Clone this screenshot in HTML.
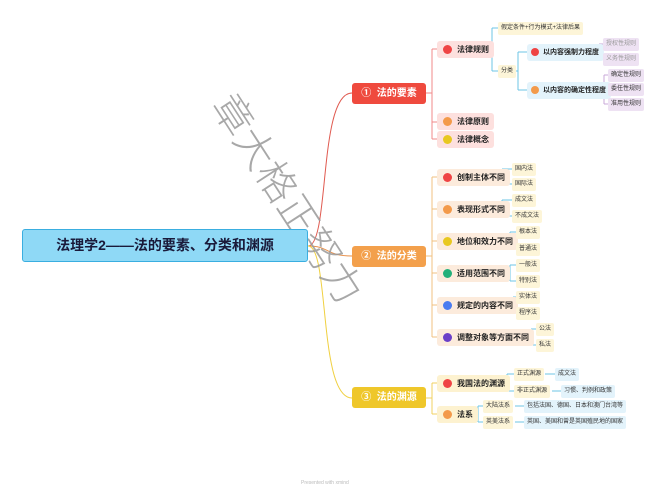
<!DOCTYPE html>
<html><head><meta charset="utf-8"><style>
body{margin:0;width:660px;height:496px;background:#fff;position:relative;overflow:hidden;font-family:"Liberation Sans","Noto Sans CJK SC",sans-serif;}
.a{position:absolute;white-space:nowrap;}
.root{left:22px;top:229px;width:286px;height:33px;background:#8fd9f6;border:1px solid #3aaee0;border-radius:3px;box-sizing:border-box;font-weight:bold;font-size:14px;color:#1a1a3a;line-height:31px;text-align:center;}
.m{width:74px;height:21px;border-radius:3px;color:#fff;font-weight:bold;font-size:10px;line-height:21px;text-align:center;}
.p{height:17px;border-radius:3px;font-size:8px;line-height:17px;padding:0 5px 0 20px;color:#222;font-weight:bold;}
.p i{position:absolute;left:6px;top:4px;width:9px;height:9px;border-radius:50%;}
.l{height:13px;font-size:6px;line-height:13px;padding:0 3px;border-radius:2px;color:#333;}
.y{background:#fdf5d8}.b{background:#e3f3fb}.v{background:#eee2f3}
</style></head><body>
<svg class="a" style="left:0;top:0" width="660" height="496" fill="none" stroke-width="1">
<path d="M308 246 C330 246,318 93,352 93" stroke="#e05a50"/>
<path d="M308 246 C330 246,325 256,352 256" stroke="#e8904a"/>
<path d="M308 246 C330 246,318 398,352 398" stroke="#f0d040"/>
<g stroke="#f08a8a"><path d="M426 93h6M432 49v90M432 49h5M432 122h5M432 139h5"/></g>
<g stroke="#6cc4e6"><path d="M487 49h5M492 28v43M492 28h8M492 71h8M512 71h6M518 52v38M518 52h9M518 90h9"/></g>
<g stroke="#c9a8d8"><path d="M595 52h4M599 44v15M599 44h4M599 59h4M600 90h4M604 75v29M604 75h4M604 104h4"/></g>
<g stroke="#f0c080"><path d="M426 256h6M432 177v160M432 177h5M432 209h5M432 241h5M432 273h5M432 305h5M432 337h5"/></g>
<g stroke="#6cc4e6"><path d="M497 177h5M502 169v15M502 169h11M502 184h11M497 209h5M502 200v16M502 200h11M502 216h11M505 241h5M510 232v17M510 232h7M510 249h7M505 273h5M510 265v16M510 265h7M510 281h7M510 305h3M513 297v16M513 297h4M513 313h4M527 337h4M531 329v16M531 329h6M531 345h6"/></g>
<g stroke="#f0d060"><path d="M426 398h6M432 383v31M432 383h5M432 414h5"/></g>
<g stroke="#6cc4e6"><path d="M502 383h5M507 374v17M507 374h8M507 391h8M545 374h11M552 391h10M473 414h5M478 406v16M478 406h6M478 422h6M515 406h10M515 422h10"/></g>
</svg>
<div class="a" style="left:170px;top:168px;transform:rotate(57deg);font-size:40px;color:#9a9a9a;opacity:.85;font-family:'Noto Sans CJK SC',sans-serif;font-weight:300;">章大格正努力</div>
<div class="a root">法理学2——法的要素、分类和渊源</div>
<div class="a m" style="left:352px;top:83px;background:#ef4a3e">①&nbsp; 法的要素</div>
<div class="a m" style="left:352px;top:246px;background:#f3a04c">②&nbsp; 法的分类</div>
<div class="a m" style="left:352px;top:387px;background:#efc72a">③&nbsp; 法的渊源</div>

<div class="a p" style="left:437px;top:41px;background:#fde0de"><i style="background:#ef4444"></i>法律规则</div>
<div class="a p" style="left:437px;top:113px;background:#fde0de"><i style="background:#f39a4a"></i>法律原则</div>
<div class="a p" style="left:437px;top:131px;background:#fde0de"><i style="background:#e8c820"></i>法律概念</div>
<div class="a l y" style="left:498px;top:22px">假定条件+行为模式+法律后果</div>
<div class="a l y" style="left:498px;top:65px">分类</div>
<div class="a p b" style="left:527px;top:44px;font-size:7px;padding-left:16px"><i style="background:#ef4444;left:4px;width:8px;height:8px"></i>以内容强制力程度</div>
<div class="a p b" style="left:527px;top:82px;font-size:7px;padding-left:16px"><i style="background:#f39a4a;left:4px;width:8px;height:8px"></i>以内容的确定性程度</div>
<div class="a l v" style="left:603px;top:38px;color:#999">授权性规则</div>
<div class="a l v" style="left:603px;top:53px;color:#999">义务性规则</div>
<div class="a l v" style="left:608px;top:69px">确定性规则</div>
<div class="a l v" style="left:608px;top:83px">委任性规则</div>
<div class="a l v" style="left:608px;top:98px">准用性规则</div>

<div class="a p" style="left:437px;top:169px;background:#fcebdc"><i style="background:#ef4444"></i>创制主体不同</div>
<div class="a p" style="left:437px;top:201px;background:#fcebdc"><i style="background:#f39a4a"></i>表现形式不同</div>
<div class="a p" style="left:437px;top:233px;background:#fcebdc"><i style="background:#e8c820"></i>地位和效力不同</div>
<div class="a p" style="left:437px;top:265px;background:#fcebdc"><i style="background:#22b07a"></i>适用范围不同</div>
<div class="a p" style="left:437px;top:297px;background:#fcebdc"><i style="background:#4a7cf0"></i>规定的内容不同</div>
<div class="a p" style="left:437px;top:329px;background:#fcebdc"><i style="background:#6a3fc8"></i>调整对象等方面不同</div>
<div class="a l y" style="left:512px;top:163px">国内法</div>
<div class="a l y" style="left:512px;top:178px">国际法</div>
<div class="a l y" style="left:512px;top:194px">成文法</div>
<div class="a l y" style="left:512px;top:210px">不成文法</div>
<div class="a l y" style="left:516px;top:226px">根本法</div>
<div class="a l y" style="left:516px;top:243px">普通法</div>
<div class="a l y" style="left:516px;top:259px">一般法</div>
<div class="a l y" style="left:516px;top:275px">特别法</div>
<div class="a l y" style="left:516px;top:291px">实体法</div>
<div class="a l y" style="left:516px;top:307px">程序法</div>
<div class="a l y" style="left:536px;top:323px">公法</div>
<div class="a l y" style="left:536px;top:339px">私法</div>

<div class="a p" style="left:437px;top:375px;background:#fdf2d0"><i style="background:#ef4444"></i>我国法的渊源</div>
<div class="a p" style="left:437px;top:406px;background:#fdf2d0"><i style="background:#f39a4a"></i>法系</div>
<div class="a l y" style="left:514px;top:368px">正式渊源</div>
<div class="a l b" style="left:555px;top:368px">成文法</div>
<div class="a l y" style="left:514px;top:385px">非正式渊源</div>
<div class="a l b" style="left:561px;top:385px">习惯、判例和政策</div>
<div class="a l y" style="left:483px;top:400px">大陆法系</div>
<div class="a l b" style="left:524px;top:400px">包括法国、德国、日本和澳门台湾等</div>
<div class="a l y" style="left:483px;top:416px">英美法系</div>
<div class="a l b" style="left:524px;top:416px">英国、美国和曾是英国殖民地的国家</div>
<div class="a" style="left:301px;top:480px;font-size:5px;color:#bbb">Presented with xmind</div>
</body></html>
